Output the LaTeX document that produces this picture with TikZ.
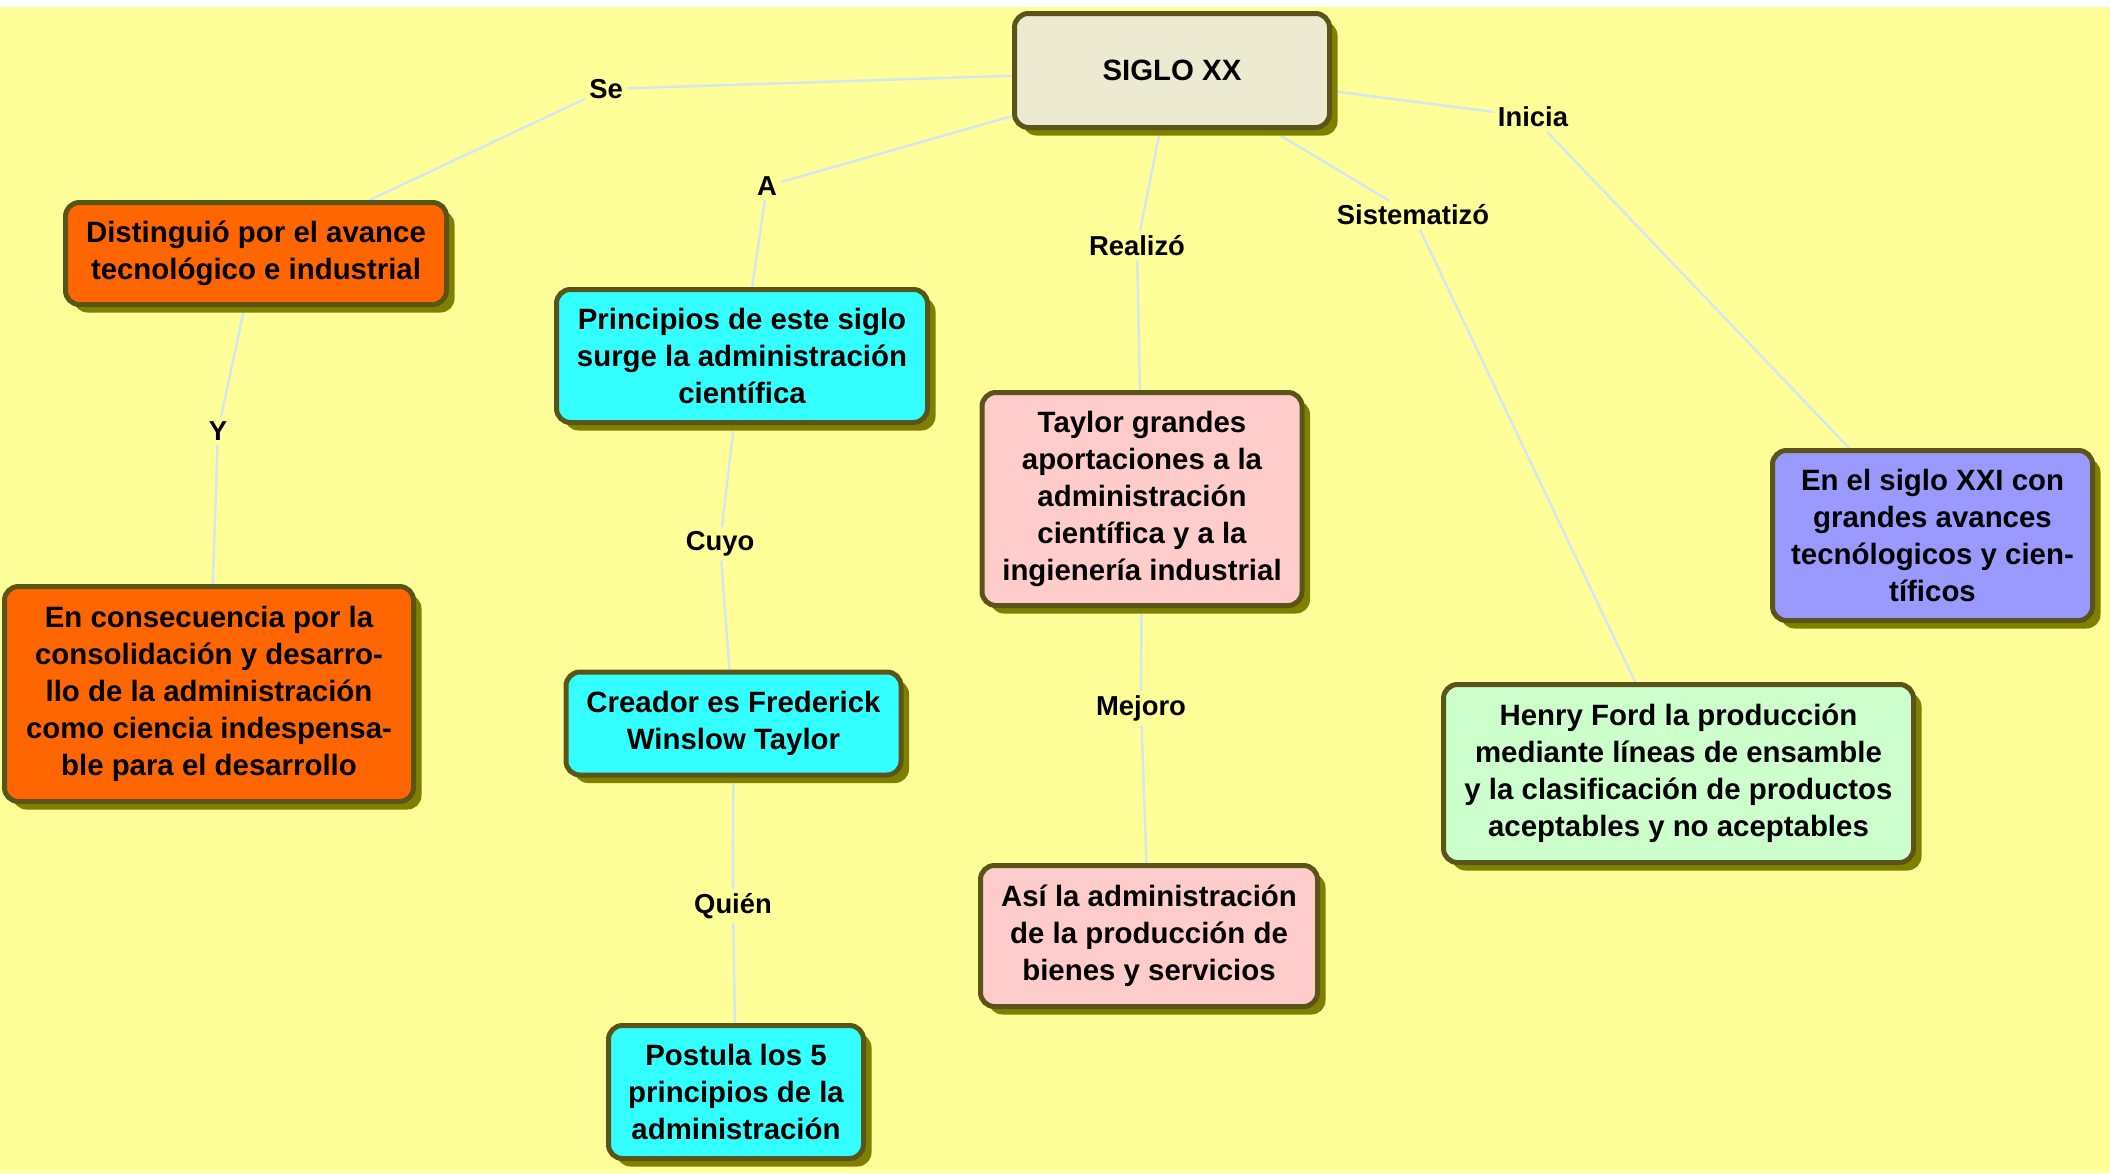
\documentclass[tikz,border=0pt]{standalone}
\usepackage{fontspec}
\setmainfont{Liberation Sans}
\usetikzlibrary{shadows}
\definecolor{bgyellow}{HTML}{FFFF99}
\definecolor{edgeblue}{HTML}{D5E6F0}
\definecolor{bordercol}{HTML}{5A5418}
\definecolor{shadowcol}{HTML}{808000}
\definecolor{sigl}{HTML}{ECEBD2}
\definecolor{orng}{HTML}{FF6600}
\definecolor{cyn}{HTML}{33FFFF}
\definecolor{pnk}{HTML}{FFCCCC}
\definecolor{prp}{HTML}{9999FF}
\definecolor{grn}{HTML}{CCFFCC}
\pgfdeclarelayer{bg}
\pgfdeclarelayer{edges}
\pgfsetlayers{bg,edges,main}
\begin{document}
\begin{tikzpicture}[x=0.5pt,y=-0.5pt,
  box/.style={draw=bordercol, line width=2.5pt, rounded corners=7pt, align=center, inner sep=0pt,
    font=\fontsize{14.7}{18.5}\selectfont\bfseries,
    drop shadow={shadow xshift=4pt, shadow yshift=-4pt, fill=shadowcol, opacity=1}},
  lbl/.style={font=\fontsize{13.7}{16}\selectfont\bfseries, inner sep=2pt},
  conn/.style={draw=edgeblue, line width=1.2pt}]
\useasboundingbox (0,0) rectangle (2110,1173);
\begin{pgfonlayer}{bg}
  \fill[white] (0,0) rectangle (2110,1173);
  \fill[bgyellow] (0,7) rectangle (2110,1173);
\end{pgfonlayer}

% boxes
\node[box, fill=sigl, minimum width=157.5pt, minimum height=57pt] (siglo) at (1172,70.5) {SIGLO XX};
\node[box, fill=orng, minimum width=190.5pt, minimum height=51pt] (dist) at (256,253.5) {Distinguió por el avance\\tecnológico e industrial};
\node[box, fill=cyn, minimum width=185.5pt, minimum height=66.5pt] (princ) at (742,356) {Principios de este siglo\\surge la administración\\científica};
\node[box, fill=pnk, minimum width=160pt, minimum height=106.5pt] (taylor) at (1142,499) {Taylor grandes\\aportaciones a la\\administración\\científica y a la\\ingienería industrial};
\node[box, fill=prp, minimum width=160pt, minimum height=85pt] (xxi) at (1932.5,535.5) {En el siglo XXI con\\grandes avances\\tecnólogicos y cien-\\tíficos};
\node[box, fill=orng, minimum width=204.5pt, minimum height=107.5pt] (conse) at (209,694) {En consecuencia por la\\consolidación y desarro-\\llo de la administración\\como ciencia indespensa-\\ble para el desarrollo};
\node[box, fill=cyn, minimum width=167.5pt, minimum height=51.5pt] (creador) at (733.5,723.5) {Creador es Frederick\\Winslow Taylor};
\node[box, fill=grn, minimum width=235pt, minimum height=89pt] (ford) at (1678.5,773.5) {Henry Ford la producción\\mediante líneas de ensamble\\y la clasificación de productos\\aceptables y no aceptables};
\node[box, fill=pnk, minimum width=168.5pt, minimum height=70.5pt] (asi) at (1149,936) {Así la administración\\de la producción de\\bienes y servicios};
\node[box, fill=cyn, minimum width=127.5pt, minimum height=66.5pt] (postula) at (736,1092) {Postula los 5\\principios de la\\administración};

% labels
\node[lbl] (se) at (606,89) {Se};
\node[lbl] (a) at (767,186) {A};
\node[lbl] (realizo) at (1137,246) {Realizó};
\node[lbl] (sistematizo) at (1413,215) {Sistematizó};
\node[lbl] (inicia) at (1533,117) {Inicia};
\node[lbl] (y) at (218,431) {Y};
\node[lbl] (cuyo) at (720,544) {Cuyo};
\node[lbl] (mejoro) at (1141,708) {Mejoro};
\node[lbl] (quien) at (733,906) {Quién};

\begin{pgfonlayer}{edges}
  \draw[conn] (siglo) -- (se) -- (dist);
  \draw[conn] (siglo) -- (a) -- (princ);
  \draw[conn] (siglo) -- (realizo) -- (taylor);
  \draw[conn] (siglo) -- (sistematizo) -- (ford);
  \draw[conn] (siglo) -- (inicia) -- (xxi);
  \draw[conn] (dist) -- (y) -- (conse);
  \draw[conn] (princ) -- (cuyo) -- (creador);
  \draw[conn] (creador) -- (quien) -- (postula);
  \draw[conn] (taylor) -- (mejoro) -- (asi);
\end{pgfonlayer}
\end{tikzpicture}
\end{document}
